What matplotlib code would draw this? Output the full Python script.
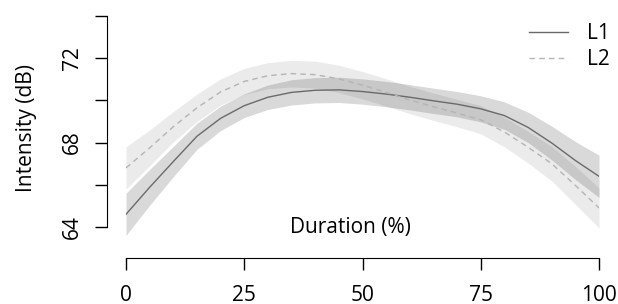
import matplotlib
matplotlib.use('Agg')
import matplotlib.pyplot as plt

plt.rcParams['font.family'] = ['Open Sans', 'DejaVu Sans']

# Data (percent of duration vs. intensity in dB)
duration = [0, 5, 10, 15, 20, 25, 30, 35, 40, 45, 50,
            55, 60, 65, 70, 75, 80, 85, 90, 95, 100]
l1_mean = [64.6, 65.88, 67.1, 68.3, 69.15, 69.75, 70.15, 70.38, 70.48, 70.5, 70.42,
           70.3, 70.15, 69.98, 69.82, 69.6, 69.28, 68.72, 67.98, 67.15, 66.4]
l2_mean = [66.8, 67.75, 68.75, 69.65, 70.4, 70.9, 71.17, 71.27, 71.22, 71.02, 70.72,
           70.38, 70.02, 69.7, 69.4, 69.08, 68.5, 67.78, 67.0, 65.97, 64.9]
l1_half = [1.0, 0.85, 0.72, 0.62, 0.58, 0.56, 0.58, 0.6, 0.6, 0.6, 0.6,
           0.6, 0.6, 0.6, 0.6, 0.62, 0.65, 0.72, 0.8, 0.9, 1.0]
l2_half = [1.0, 0.85, 0.72, 0.65, 0.62, 0.62, 0.62, 0.63, 0.64, 0.65, 0.65,
           0.65, 0.65, 0.65, 0.65, 0.67, 0.7, 0.75, 0.82, 0.9, 0.95]
y_ticks = [64, 66, 68, 70, 72, 74]
y_labels = ['64', '', '68', '', '72', '']
x_ticks = [0, 25, 50, 75, 100]

fig = plt.figure(figsize=(6.18, 3.04), dpi=100)
ax = fig.add_axes([0.2039, 0.198, 0.7654, 0.777])

l1_lo = [m - h for m, h in zip(l1_mean, l1_half)]
l1_hi = [m + h for m, h in zip(l1_mean, l1_half)]
l2_lo = [m - h for m, h in zip(l2_mean, l2_half)]
l2_hi = [m + h for m, h in zip(l2_mean, l2_half)]

ax.fill_between(duration, l2_lo, l2_hi, color='black', alpha=0.08, linewidth=0)
ax.fill_between(duration, l1_lo, l1_hi, color='black', alpha=0.15, linewidth=0)
ax.plot(duration, l1_mean, color='#6a6a6a', linewidth=1.0, label='L1')
ax.plot(duration, l2_mean, color='#b4b4b4', linewidth=1.0, linestyle=(0, (4, 3)), label='L2')

ax.set_xlim(0, 100)
ax.set_ylim(63.2, 74.4)

for s in ['top', 'right']:
    ax.spines[s].set_visible(False)
ax.spines['left'].set_position(('outward', 13.7))
ax.spines['bottom'].set_position(('outward', 10.2))
ax.spines['left'].set_bounds(64, 74)
ax.spines['bottom'].set_bounds(0, 100)

ax.set_yticks(y_ticks)
ax.set_yticklabels(y_labels, rotation=90, va='center')
ax.set_xticks(x_ticks)
ax.set_xticklabels([str(t) for t in x_ticks])
ax.tick_params(axis='both', length=8.6, width=1, labelsize=15)
ax.tick_params(axis='x', pad=10.5)
ax.tick_params(axis='y', pad=9)

ax.set_ylabel('Intensity (dB)', fontsize=15)
ax.yaxis.set_label_coords(-0.189, 0.49)
fig.text(350 / 618, 1 - 228 / 304, 'Duration (%)', fontsize=15, ha='center', va='center')

ax.legend(loc='upper left', bbox_to_anchor=(529 / 618, 1 - 23 / 304), bbox_transform=fig.transFigure,
          frameon=False, fontsize=15, handlelength=1.87, handletextpad=0.91,
          labelspacing=0.25, borderpad=0, borderaxespad=0)

fig.savefig('out.png', dpi=100)
